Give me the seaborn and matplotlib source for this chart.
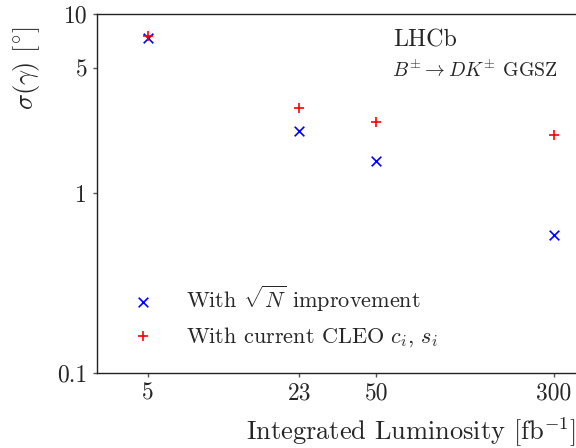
import numpy as np
import pandas as pd
import matplotlib
matplotlib.use("Agg")
import matplotlib.pyplot as plt
import matplotlib.ticker as mticker
import seaborn as sns

luminosity = [5, 23, 50, 300]
sigma_sqrtN = [7.35, 2.24, 1.52, 0.585]
sigma_cleo = [7.55, 3.0, 2.51, 2.13]
xtick_vals = [5, 23, 50, 300]
xtick_labels = ["5", "23", "50", "300"]
ytick_vals = [0.1, 1, 5, 10]
ytick_labels = ["0.1", "1", "5", "10"]

sns.set_style("ticks")
plt.rcParams["font.family"] = ["cmr10", "DejaVu Serif"]
plt.rcParams["mathtext.fontset"] = "cm"
plt.rcParams["axes.unicode_minus"] = False
plt.rcParams["axes.formatter.use_mathtext"] = True

W, H = 576, 448
fig = plt.figure(figsize=(5.76, 4.48), dpi=100)
ax_left, ax_right, ax_top, ax_bottom = 97, 587.5, 14, 373
ax = fig.add_axes([ax_left / W, (H - ax_bottom) / H,
                   (ax_right - ax_left) / W, (ax_bottom - ax_top) / H])

df1 = pd.DataFrame({"x": luminosity, "y": sigma_sqrtN})
df2 = pd.DataFrame({"x": luminosity, "y": sigma_cleo})
sns.scatterplot(data=df1, x="x", y="y", ax=ax, marker="x", color="blue", s=48,
                linewidth=1.2, label=r"With $\sqrt{N}$ improvement")
sns.scatterplot(data=df2, x="x", y="y", ax=ax, marker="+", color="red", s=48,
                linewidth=1.2, label=r"With current CLEO $c_i$, $s_i$")

ax.set_xscale("log")
ax.set_yscale("log")
ax.set_xlim(2.99, 421)
ax.set_ylim(0.1, 10)
ax.xaxis.set_major_locator(mticker.FixedLocator(xtick_vals))
ax.xaxis.set_major_formatter(mticker.FixedFormatter(xtick_labels))
ax.xaxis.set_minor_locator(mticker.NullLocator())
ax.yaxis.set_major_locator(mticker.FixedLocator(ytick_vals))
ax.yaxis.set_major_formatter(mticker.FixedFormatter(ytick_labels))
ax.yaxis.set_minor_locator(mticker.NullLocator())
ax.tick_params(axis="both", direction="out", length=3, width=1, color="#555555",
               labelsize=17, pad=4)

ax.spines["right"].set_visible(False)
for s in ["left", "top", "bottom"]:
    ax.spines[s].set_color("#222222")
    ax.spines[s].set_linewidth(1.0)

ax.set_xlabel(r"Integrated Luminosity [fb$^{-1}$]", fontsize=19, loc="right")
ax.xaxis.set_label_coords(0.999, 1 - 416 / H, transform=fig.transFigure)
ax.set_ylabel(r"$\sigma(\gamma)$ [$^{\circ}$]", fontsize=19)
ax.yaxis.set_label_coords(42 / W, 1 - 68.5 / H, transform=fig.transFigure)

axw = ax_right - ax_left
axh = ax_bottom - ax_top
ax.text((393 - ax_left) / axw, (ax_bottom - 40) / axh, "LHCb", transform=ax.transAxes,
        fontsize=17.3, va="center", ha="left")
ax.text((392 - ax_left) / axw, (ax_bottom - 70) / axh, r"$B^{\pm} \to DK^{\pm}$ GGSZ",
        transform=ax.transAxes, fontsize=14.3, va="center", ha="left")

leg = ax.legend(loc="lower left", bbox_to_anchor=(0.02 + 5 / axw, 0.06 - 6 / axh),
                frameon=False, fontsize=16, handletextpad=0.92, labelspacing=0.48,
                borderaxespad=0)

fig.savefig("out.png", dpi=100)
